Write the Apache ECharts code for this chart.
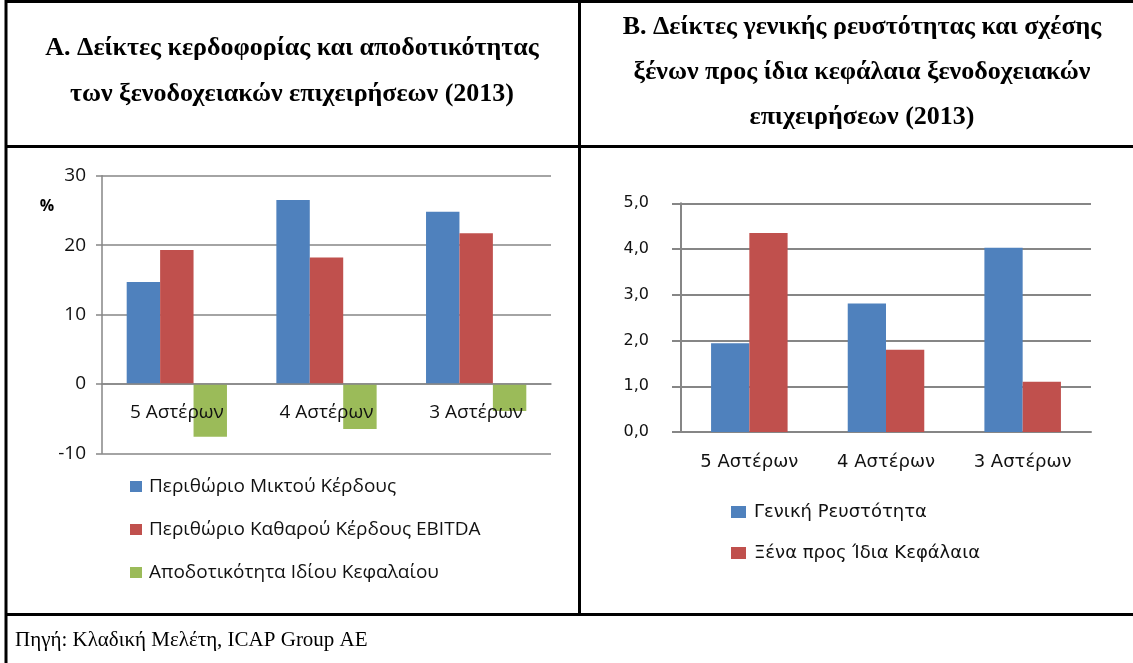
<!DOCTYPE html>
<html>
<head>
<meta charset="utf-8">
<script src="https://cdn.jsdelivr.net/npm/echarts@6/dist/echarts.min.js"></script>
<style>
  html, body { margin: 0; padding: 0; background: #fff; }
  #main { width: 1133px; height: 663px; }
</style>
</head>
<body>
<div id="main"></div>
<script>
// categories (same for both charts)
var categories = ['5 Αστέρων', '4 Αστέρων', '3 Αστέρων'];

// chart A - %
var grossMargin = [14.7, 26.5, 24.8];
var ebitdaMargin = [19.3, 18.2, 21.7];
var returnOnEquity = [-7.6, -6.5, -3.9];
var namesA = ['Περιθώριο Μικτού Κέρδους', 'Περιθώριο Καθαρού Κέρδους EBITDA', 'Αποδοτικότητα Ιδίου Κεφαλαίου'];

// chart B - ratios
var liquidity = [1.94, 2.81, 4.03];
var debtToEquity = [4.35, 1.80, 1.10];
var namesB = ['Γενική Ρευστότητα', 'Ξένα προς Ίδια Κεφάλαια'];

var titleA = ['A. Δείκτες κερδοφορίας και αποδοτικότητας', 'των ξενοδοχειακών επιχειρήσεων (2013)'];
var titleB = ['B. Δείκτες γενικής ρευστότητας και σχέσης', 'ξένων προς ίδια κεφάλαια ξενοδοχειακών', 'επιχειρήσεων (2013)'];
var source = 'Πηγή: Κλαδική Μελέτη, ICAP Group AE';

var blue = '#4F81BD', red = '#C0504D', green = '#9BBB59', gridGrey = '#868686';
var fontA = 'Open Sans', fontB = 'DejaVu Sans';

var gridA = {left: 102, right: 582, top: 175.7, bottom: 209.7};
var minA = -10, maxA = 30;
// move the category axis of chart A up to the zero line
var plotHA = 663 - gridA.top - gridA.bottom;
var zeroShift = plotHA * (0 - minA) / (maxA - minA);

var myChart = echarts.init(document.getElementById('main'));

// table borders + titles
var graphics = [];
function hline(y, x1, x2) {
    graphics.push({type: 'line', shape: {x1: x1, y1: y, x2: x2, y2: y}, style: {stroke: '#000', lineWidth: 3}, silent: true});
}
function vline(x, y1, y2) {
    graphics.push({type: 'line', shape: {x1: x, y1: y1, x2: x, y2: y2}, style: {stroke: '#000', lineWidth: 3}, silent: true});
}
hline(1.5, 5, 1133);
hline(146.5, 5, 1133);
hline(614.5, 5, 1133);
vline(6, 0, 663);
vline(579.5, 0, 614);

titleA.forEach(function (t, i) {
    graphics.push({type: 'text', x: 292, y: 48 + i * 46, style: {text: t, textAlign: 'center', textVerticalAlign: 'middle',
        font: 'bold 26px "Liberation Serif"', fill: '#000'}});
});
titleB.forEach(function (t, i) {
    graphics.push({type: 'text', x: 862, y: 27 + i * 45, style: {text: t, textAlign: 'center', textVerticalAlign: 'middle',
        font: 'bold 26px "Liberation Serif"', fill: '#000'}});
});
graphics.push({type: 'text', x: 15, y: 640, style: {text: source, textAlign: 'left', textVerticalAlign: 'middle',
    font: '21px "Liberation Serif"', fill: '#000'}});
graphics.push({type: 'text', x: 47, y: 206, style: {text: '%', textAlign: 'center', textVerticalAlign: 'middle',
    font: 'bold 16px "Open Sans"', fill: '#000'}});

var option = {
    animation: false,
    graphic: graphics,
    grid: [
        gridA,
        {left: 681, right: 42, top: 203.3, bottom: 231}
    ],
    legend: [
        {
            data: namesA, orient: 'vertical', left: 130, top: 477, padding: 0,
            itemWidth: 12, itemHeight: 11, itemGap: 24,
            textStyle: {fontFamily: fontA, fontSize: 19, color: '#111', padding: [0, 0, 0, 2]},
            icon: 'rect'
        },
        {
            data: namesB, orient: 'vertical', left: 731, top: 503, padding: 0,
            itemWidth: 15, itemHeight: 12, itemGap: 23,
            textStyle: {fontFamily: fontB, fontSize: 18, color: '#111', padding: [0, 0, 0, 3]},
            icon: 'rect'
        }
    ],
    xAxis: [
        {
            type: 'category', gridIndex: 0, data: categories, z: 5,
            offset: -zeroShift,
            axisLine: {onZero: false, lineStyle: {color: gridGrey, width: 1.5}},
            axisTick: {length: 6, lineStyle: {color: gridGrey, width: 1.5}},
            axisLabel: {fontFamily: fontA, fontSize: 19, color: '#111', margin: 19}
        },
        {
            type: 'category', gridIndex: 1, data: categories,
            axisLine: {lineStyle: {color: gridGrey, width: 2}},
            axisTick: {length: 7, lineStyle: {color: gridGrey, width: 2}},
            axisLabel: {fontFamily: fontB, fontSize: 18, color: '#111', margin: 21}
        }
    ],
    yAxis: [
        {
            type: 'value', gridIndex: 0, min: minA, max: maxA, interval: 10,
            axisLine: {show: true, lineStyle: {color: gridGrey, width: 1.5}},
            axisTick: {show: true, length: 6, lineStyle: {color: gridGrey, width: 1.5}},
            splitLine: {lineStyle: {color: gridGrey, width: 1.5}},
            axisLabel: {fontFamily: fontA, fontSize: 19, color: '#111', margin: 16}
        },
        {
            type: 'value', gridIndex: 1, min: 0, max: 5, interval: 1,
            axisLine: {show: true, lineStyle: {color: gridGrey, width: 2}},
            axisTick: {show: true, length: 9, lineStyle: {color: gridGrey, width: 2}},
            splitLine: {lineStyle: {color: gridGrey, width: 2}},
            axisLabel: {
                fontFamily: fontB, fontSize: 16, color: '#111', margin: 32,
                formatter: function (v) { return v.toFixed(1).replace('.', ','); }
            }
        }
    ],
    series: [
        {name: namesA[0], type: 'bar', xAxisIndex: 0, yAxisIndex: 0, data: grossMargin,
            itemStyle: {color: blue}, barGap: '0%', barCategoryGap: '33%'},
        {name: namesA[1], type: 'bar', xAxisIndex: 0, yAxisIndex: 0, data: ebitdaMargin,
            itemStyle: {color: red}, barGap: '0%', barCategoryGap: '33%'},
        {name: namesA[2], type: 'bar', xAxisIndex: 0, yAxisIndex: 0, data: returnOnEquity,
            itemStyle: {color: green}, barGap: '0%', barCategoryGap: '33%'},
        {name: namesB[0], type: 'bar', xAxisIndex: 1, yAxisIndex: 1, data: liquidity,
            itemStyle: {color: blue}, barGap: '0%', barCategoryGap: '44%'},
        {name: namesB[1], type: 'bar', xAxisIndex: 1, yAxisIndex: 1, data: debtToEquity,
            itemStyle: {color: red}, barGap: '0%', barCategoryGap: '44%'}
    ]
};
myChart.setOption(option, true);
</script>
</body>
</html>
